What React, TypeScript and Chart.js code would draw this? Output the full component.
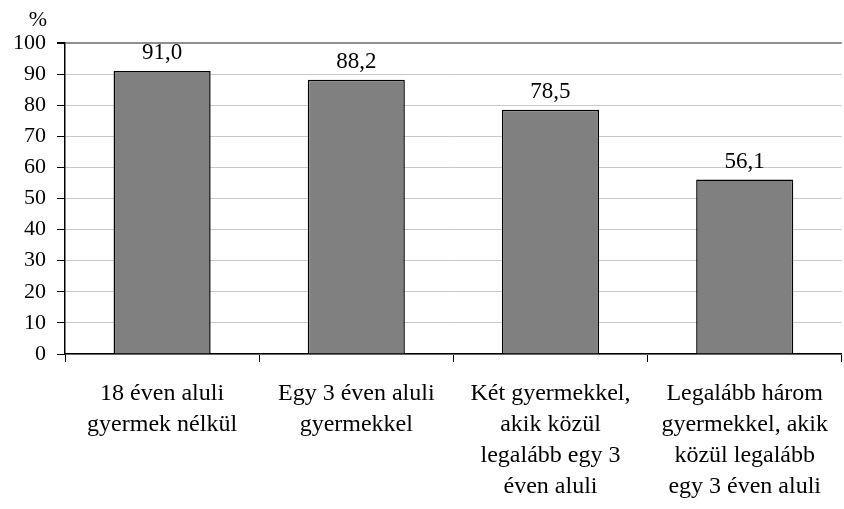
import React, { useEffect, useRef } from "react";
import { Chart, registerables } from "chart.js";

Chart.register(...registerables);

const categories: string[][] = [
  ["18 éven aluli", "gyermek nélkül"],
  ["Egy 3 éven aluli", "gyermekkel"],
  ["Két gyermekkel,", "akik közül", "legalább egy 3", "éven aluli"],
  ["Legalább három", "gyermekkel, akik", "közül legalább", "egy 3 éven aluli"],
];
const values: number[] = [91.0, 88.2, 78.5, 56.1];
const yMin = 0;
const yMax = 100;
const yStep = 10;
const unitLabel = "%";

const FONT = "'Liberation Serif', 'Times New Roman', serif";

const fmt = (v: number) => v.toFixed(1).replace(".", ",");

const labelPlugin = {
  id: "valueLabels",
  afterDatasetsDraw(chart: any) {
    const ctx = chart.ctx;
    const meta = chart.getDatasetMeta(0);
    ctx.save();
    ctx.font = `23px ${FONT}`;
    ctx.fillStyle = "#000";
    ctx.textAlign = "center";
    ctx.textBaseline = "alphabetic";
    meta.data.forEach((bar: any, i: number) => {
      ctx.fillText(fmt(values[i]), bar.x, bar.y - 12);
    });
    const ca = chart.chartArea;
    ctx.font = `22px ${FONT}`;
    ctx.textBaseline = "middle";
    ctx.fillText(unitLabel, ca.left - 27, ca.top - 23);
    ctx.restore();
  },
};

export default function App() {
  const ref = useRef<HTMLCanvasElement>(null);
  useEffect(() => {
    document.body.style.margin = "0";
    const chart = new Chart(ref.current!, {
      type: "bar",
      data: {
        labels: categories,
        datasets: [
          {
            data: values,
            backgroundColor: "#808080",
            borderColor: "#000",
            borderWidth: 1.5,
            barPercentage: 0.5,
            categoryPercentage: 1,
          },
        ],
      },
      options: {
        animation: false,
        responsive: false,
        maintainAspectRatio: false,
        layout: { padding: { top: 43, right: 0, bottom: 0, left: 0 } },
        plugins: { legend: { display: false }, tooltip: { enabled: false } },
        scales: {
          x: {
            afterFit: (s: any) => {
              s.height = 155;
            },
            grid: {
              offset: true,
              drawOnChartArea: false,
              drawTicks: true,
              tickLength: 8,
              tickColor: "#000",
            },
            border: { color: "#000", width: 1.5 },
            ticks: {
              color: "#000",
              font: { family: FONT, size: 24, lineHeight: 1.29 },
              padding: 16,
              maxRotation: 0,
              autoSkip: false,
            },
          },
          y: {
            min: yMin,
            max: yMax,
            afterFit: (s: any) => {
              s.width = 65;
            },
            grid: {
              color: (c: any) => (c.tick && c.tick.value === yMax ? "#909090" : "#c8c8c8"),
              lineWidth: (c: any) => (c.tick && c.tick.value === yMax ? 2 : 1),
              tickColor: "#000",
              tickLength: 8,
            },
            border: { color: "#000", width: 1.5 },
            ticks: {
              stepSize: yStep,
              color: "#000",
              font: { family: FONT, size: 22 },
              padding: 11,
            },
          },
        },
      },
      plugins: [labelPlugin],
    });
    return () => chart.destroy();
  }, []);
  return (
    <div style={{ position: "absolute", left: 0, top: 0, width: 844, height: 509 }}>
      <canvas ref={ref} width={844} height={509} style={{ width: 844, height: 509 }} />
    </div>
  );
}
